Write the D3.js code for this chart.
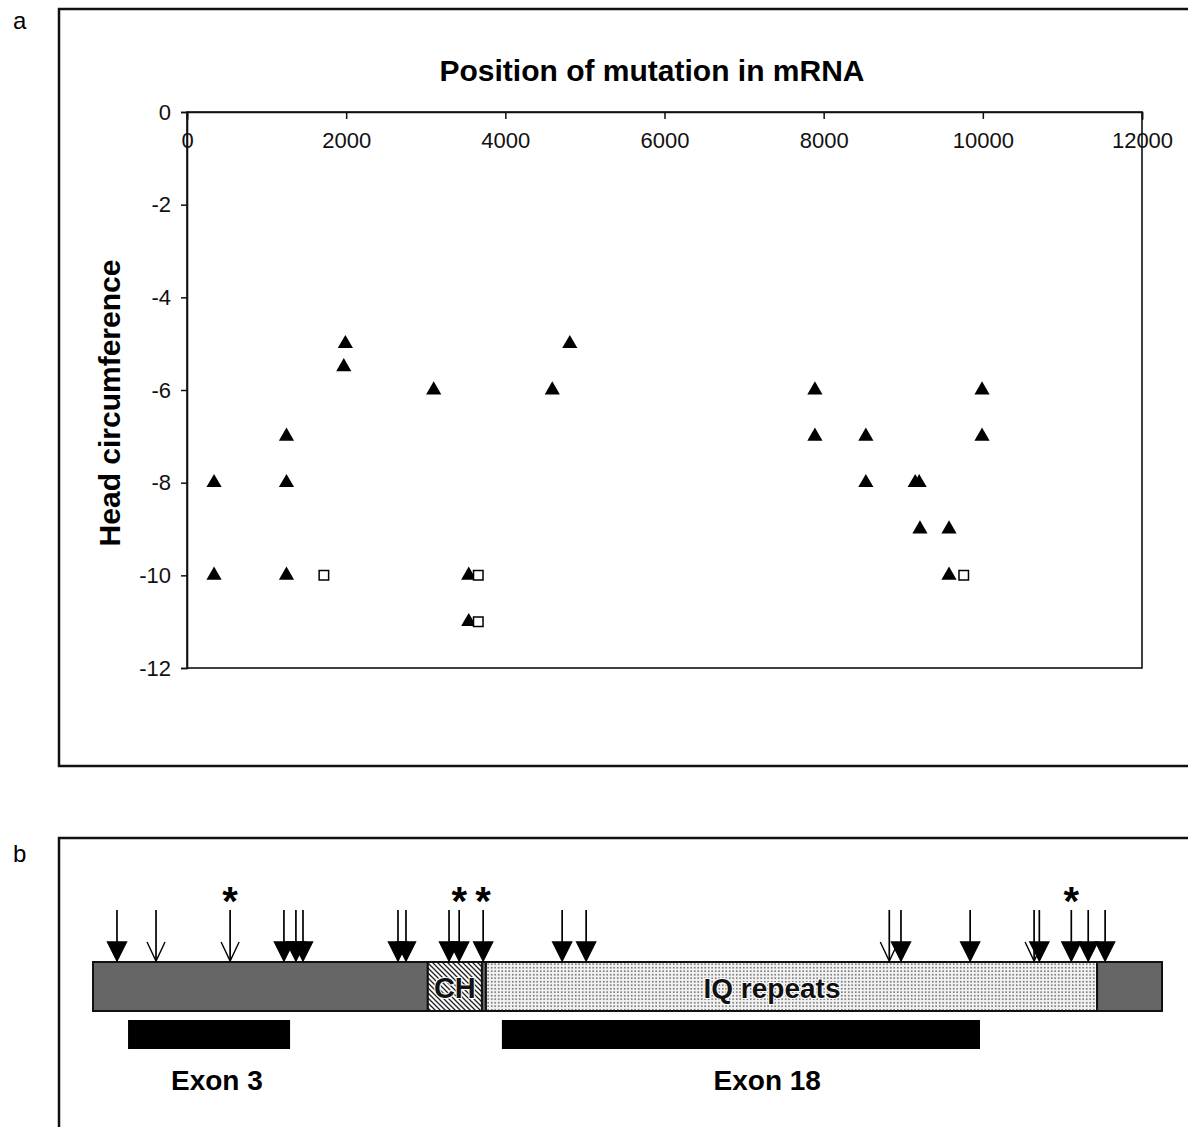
<!DOCTYPE html>
<html>
<head>
<meta charset="utf-8">
<script src="https://cdn.jsdelivr.net/npm/d3@7"></script>
<style>
  body { margin: 0; background: #fff; }
  text { font-family: "Liberation Sans", Arial, sans-serif; }
</style>
</head>
<body>
<div id="chart"></div>
<script>
// panel a: head circumference vs position of mutation in mRNA
var triX = [340, 340, 1250, 1250, 1250, 1990, 1970, 3100, 3540, 3540, 4590, 4810,
            7890, 7890, 8530, 8530, 9150, 9200, 9210, 9575, 9575, 9990, 9990];
var triY = [-8, -10, -7, -8, -10, -5, -5.5, -6, -10, -11, -6, -5,
            -6, -7, -7, -8, -8, -8, -9, -9, -10, -6, -7];
var sqX = [1720, 3660, 3660, 9760];
var sqY = [-10, -10, -11, -10];
var xTicks = [0, 2000, 4000, 6000, 8000, 10000, 12000];
var yTicks = [0, -2, -4, -6, -8, -10, -12];

// panel b: protein (amino acid positions)
var proteinLength = 3477;
var segStart = [0, 1089, 1265, 1278, 3266];
var segEnd = [1089, 1265, 1278, 3266, 3477];
var segType = ["gray", "ch", "gray", "iq", "gray"];
var arrowPos = [78, 205, 446, 621, 660, 683, 992, 1018, 1158, 1191, 1269, 1526, 1604,
                2590, 2628, 2853, 3061, 3078, 3182, 3237, 3292];
var arrowOpen = [0, 1, 1, 0, 0, 0, 0, 0, 0, 0, 0, 0, 0,
                 1, 0, 0, 1, 0, 0, 0, 0];
var starPos = [446, 1191, 1269, 3182];
var exonName = ["Exon 3", "Exon 18"];
var exonStart = [114, 1330];
var exonEnd = [641, 2885];
var exonLabelPos = [403, 2193];

var W = 1188, H = 1127;
var font = "\"Liberation Sans\", Arial, sans-serif";
var svg = d3.select("#chart").append("svg")
    .attr("width", W)
    .attr("height", H);

var defs = svg.append("defs");
var hatch = defs.append("pattern")
    .attr("id", "hatch")
    .attr("patternUnits", "userSpaceOnUse")
    .attr("width", 5).attr("height", 5);
hatch.append("rect").attr("width", 5).attr("height", 5).attr("fill", "#fff");
hatch.append("path")
    .attr("d", "M-1,-1 L6,6 M-1,4 L1,6 M4,-1 L6,1")
    .attr("stroke", "#222").attr("stroke-width", 1.3);

var dots = defs.append("pattern")
    .attr("id", "dots")
    .attr("patternUnits", "userSpaceOnUse")
    .attr("width", 3.5).attr("height", 3.5);
dots.append("rect").attr("width", 3.5).attr("height", 3.5).attr("fill", "#f2f2f2");
dots.append("rect").attr("x", 1).attr("y", 1).attr("width", 1.4).attr("height", 1.4).attr("fill", "#444");

// ---------- panel a ----------
svg.append("rect")
    .attr("x", 59).attr("y", 9)
    .attr("width", 1200).attr("height", 757)
    .attr("fill", "none").attr("stroke", "#111").attr("stroke-width", 2.5);

svg.append("text").attr("x", 13).attr("y", 29)
    .style("font-size", "24px").text("a");

var x = d3.scaleLinear().domain([0, 12000]).range([187, 1142]);
var y = d3.scaleLinear().domain([-12, 0]).range([668, 112]);

// plot box
svg.append("rect")
    .attr("x", x(0)).attr("y", y(0))
    .attr("width", x(12000) - x(0)).attr("height", y(-12) - y(0))
    .attr("fill", "none").attr("stroke", "#111").attr("stroke-width", 1.6);

var xAxis = svg.append("g")
    .attr("transform", "translate(0," + y(0) + ")")
    .call(d3.axisBottom(x).tickValues(xTicks).tickSize(8).tickPadding(12)
        .tickFormat(function (d) { return String(d); }));
var yAxis = svg.append("g")
    .attr("transform", "translate(" + x(0) + ",0)")
    .call(d3.axisLeft(y).tickValues(yTicks).tickSize(6).tickPadding(10)
        .tickFormat(function (d) { return String(d); }));

[xAxis, yAxis].forEach(function (g) {
    g.select(".domain").attr("stroke", "#111").attr("stroke-width", 1.6);
    g.selectAll(".tick line").attr("stroke", "#111").attr("stroke-width", 1.5);
    g.selectAll(".tick text")
        .attr("fill", "#111")
        .style("font-size", "22px")
        .style("font-family", font);
});
xAxis.selectAll(".tick line").attr("y2", 7);

svg.append("text")
    .attr("x", 652).attr("y", 81)
    .attr("text-anchor", "middle")
    .style("font-size", "30px").style("font-weight", "bold")
    .text("Position of mutation in mRNA");

svg.append("text")
    .attr("transform", "translate(120,403) rotate(-90)")
    .attr("text-anchor", "middle")
    .style("font-size", "30px").style("font-weight", "bold")
    .text("Head circumference");

var tri = d3.symbol().type(d3.symbolTriangle).size(100);
svg.append("g").selectAll("path")
    .data(d3.range(triX.length))
    .enter().append("path")
    .attr("transform", function (i) { return "translate(" + x(triX[i]) + "," + y(triY[i]) + ")"; })
    .attr("d", tri)
    .attr("fill", "#000");

var sq = d3.symbol().type(d3.symbolSquare).size(90);
svg.append("g").selectAll("path")
    .data(d3.range(sqX.length))
    .enter().append("path")
    .attr("transform", function (i) { return "translate(" + x(sqX[i]) + "," + y(sqY[i]) + ")"; })
    .attr("d", sq)
    .attr("fill", "#fff").attr("stroke", "#000").attr("stroke-width", 1.5);

// ---------- panel b ----------
svg.append("rect")
    .attr("x", 59).attr("y", 838)
    .attr("width", 1200).attr("height", 400)
    .attr("fill", "none").attr("stroke", "#111").attr("stroke-width", 2.5);

svg.append("text").attr("x", 13).attr("y", 862)
    .style("font-size", "24px").text("b");

var xb = d3.scaleLinear().domain([0, proteinLength]).range([93, 1162]);
var barTop = 962, barH = 49;
var fills = { gray: "#666", ch: "url(#hatch)", iq: "url(#dots)" };

svg.append("g").selectAll("rect")
    .data(d3.range(segStart.length))
    .enter().append("rect")
    .attr("x", function (i) { return xb(segStart[i]); })
    .attr("y", barTop)
    .attr("width", function (i) { return xb(segEnd[i]) - xb(segStart[i]); })
    .attr("height", barH)
    .attr("fill", function (i) { return fills[segType[i]]; })
    .attr("stroke", "#111").attr("stroke-width", 2);

svg.append("text")
    .attr("x", (xb(1089) + xb(1265)) / 2).attr("y", barTop + 36)
    .attr("text-anchor", "middle")
    .style("font-size", "29px").style("font-weight", "bold")
    .attr("fill", "#111").attr("stroke", "#fff").attr("stroke-width", 2).attr("paint-order", "stroke")
    .text("CH");
svg.append("text")
    .attr("x", 772).attr("y", barTop + 36)
    .attr("text-anchor", "middle")
    .style("font-size", "28px").style("font-weight", "bold")
    .attr("fill", "#111").attr("stroke", "#fff").attr("stroke-width", 2).attr("paint-order", "stroke")
    .text("IQ repeats");

// arrows: open ones first so filled heads sit on top
var order = d3.range(arrowPos.length).sort(function (a, b) { return arrowOpen[b] - arrowOpen[a]; });
var arrows = svg.append("g").selectAll("g")
    .data(order)
    .enter().append("g")
    .attr("transform", function (i) { return "translate(" + xb(arrowPos[i]) + ",0)"; });
arrows.append("line")
    .attr("x1", 0).attr("x2", 0)
    .attr("y1", 910).attr("y2", barTop - 2)
    .attr("stroke", "#000").attr("stroke-width", 1.7);
arrows.append("path")
    .attr("d", function (i) {
        return arrowOpen[i]
            ? "M-9,942 L0," + (barTop - 1) + " L9,942"
            : "M-9.5,942 L9.5,942 L0," + (barTop - 1) + " Z";
    })
    .attr("fill", function (i) { return arrowOpen[i] ? "none" : "#000"; })
    .attr("stroke", "#000").attr("stroke-width", 1.4);

svg.append("g").selectAll("text")
    .data(starPos)
    .enter().append("text")
    .attr("x", function (d) { return xb(d); })
    .attr("y", 915)
    .attr("text-anchor", "middle")
    .style("font-size", "40px").style("font-weight", "bold")
    .text("*");

svg.append("g").selectAll("rect")
    .data(d3.range(exonName.length))
    .enter().append("rect")
    .attr("x", function (i) { return xb(exonStart[i]); })
    .attr("y", 1020)
    .attr("width", function (i) { return xb(exonEnd[i]) - xb(exonStart[i]); })
    .attr("height", 29)
    .attr("fill", "#000");

svg.append("g").selectAll("text")
    .data(d3.range(exonName.length))
    .enter().append("text")
    .attr("x", function (i) { return xb(exonLabelPos[i]); })
    .attr("y", 1090)
    .attr("text-anchor", "middle")
    .style("font-size", "28px").style("font-weight", "bold")
    .text(function (i) { return exonName[i]; });
</script>
</body>
</html>
